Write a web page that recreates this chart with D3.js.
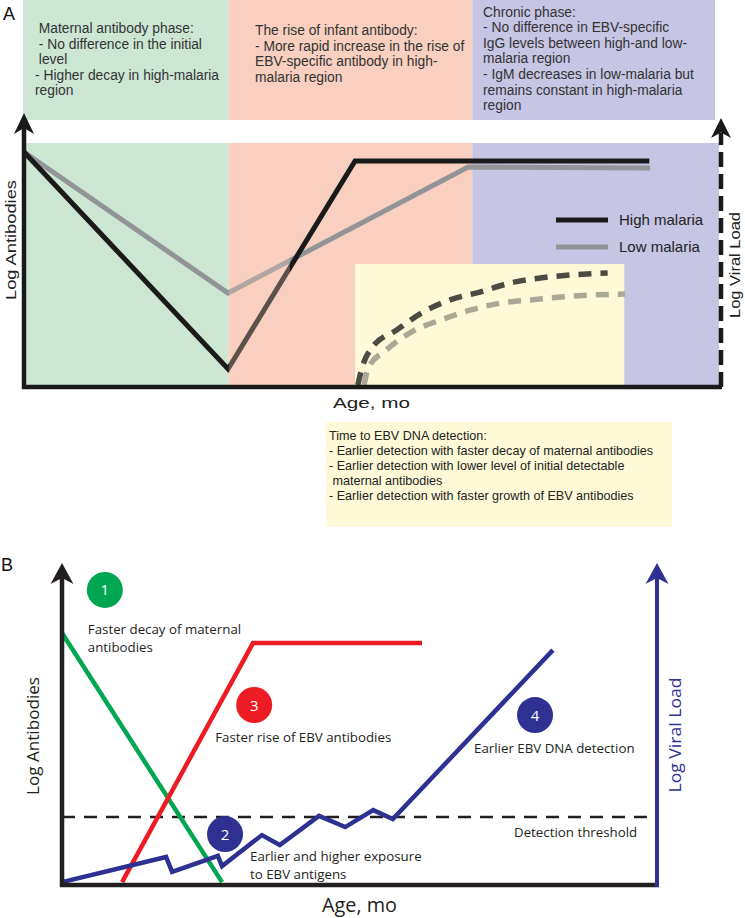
<!DOCTYPE html>
<html><head><meta charset="utf-8">
<script src="https://cdn.jsdelivr.net/npm/d3@7"></script>
<style>body{margin:0;background:#fff} svg{display:block} text{white-space:pre}</style>
</head><body><svg id="c" width="745" height="918"></svg>
<script>
// ---------- Panel A data (schematic units: age 0-100, level 0-100) ----------
const phaseStart = [0, 29.5, 64.6];
const phaseEnd = [29.5, 64.6, 100];
const phaseNotes = [
  [" Maternal antibody phase:", " - No difference in the initial", " level", "- Higher decay in high-malaria", "region"],
  ["The rise of infant antibody:", "- More rapid increase in the rise of", "EBV-specific antibody in high-", "malaria region"],
  ["Chronic phase:", "- No difference in EBV-specific", "IgG levels between high-and low-", "malaria region", "- IgM decreases in low-malaria but", "remains constant in high-malaria", "region"]
];
const seriesA = ["High malaria", "Low malaria"];
const ageHigh = [0, 29.4, 47.7, 90.1];
const abHigh = [96.3, 7.4, 92.6, 92.6];
const ageLow = [0, 29.4, 64.0, 90.2];
const abLow = [96.3, 38.5, 90.2, 89.8];
const vlAgeHigh = [48.1, 48.7, 50.1, 53.7, 57.5, 61.4, 65.7, 70.0, 74.4, 78.7, 84.1];
const vlHigh = [0.8, 7.8, 16.0, 23.4, 30.7, 35.7, 38.9, 42.6, 44.7, 45.9, 46.7];
const vlAgeLow = [49.0, 49.6, 52.2, 55.8, 60.1, 64.4, 68.7, 73.1, 77.4, 81.7, 86.6];
const vlLow = [0.8, 7.8, 15.2, 22.5, 27.5, 31.6, 34.4, 35.7, 36.9, 37.7, 38.1];
const detectAge = [47.7, 86.5];
const detectTop = 50.4;
const detectNotes = ["Time to EBV DNA detection:", "- Earlier detection with faster decay of maternal antibodies",
  "- Earlier detection with lower level of initial detectable", " maternal antibodies",
  "- Earlier detection with faster growth of EBV antibodies"];

// ---------- Panel B data ----------
const ageMaternal = [0, 26.9];
const abMaternal = [78.75, 0.9];
const ageEBVab = [10.1, 32.1, 60.5];
const abEBV = [0.9, 75.6, 75.6];
const ageViral = [0, 17.5, 18.5, 26.2, 26.9, 33.6, 36.6, 43.2, 47.6, 52.3, 55.6, 82.5];
const viral = [0.9, 8.75, 4.1, 9.1, 5.9, 15.6, 12.5, 21.6, 18.1, 23.4, 20.6, 73.4];
const threshold = 21.25;
const thresholdEnd = 98.3;
const stepNums = ["1", "2", "3", "4"];
const stepLabels = [["Faster decay of maternal", "antibodies"], ["Earlier and higher exposure", "to EBV antigens"],
  ["Faster rise of EBV antibodies"], ["Earlier EBV DNA detection"]];
const stepAge = [7.2, 27.4, 32.3, 79.5];
const stepLevel = [92.2, 15.9, 56.25, 53.1];

// ---------- styles / layout ----------
const fontA = "'Liberation Sans', Arial, sans-serif";
const fontB = "'Open Sans', 'Noto Sans', sans-serif";
const phaseFill = ["#cce6d3", "#f9cfbf", "#c6c5e3"];
const stepColor = ["#00a651", "#2e3192", "#ed1c24", "#2e3192"];
const labelOffset = [[-17, 44], [25, 27], [-39, 37], [-61, 38]];
const BLUE = "#2e3192";

const svg = d3.select("#c");
const zip = (xs, ys) => xs.map((x, i) => [x, ys[i]]);

function arrowHead(g, x, yTip, color, hw, h) {
  g.append("path")
    .attr("d", `M${x},${yTip} L${x + hw},${yTip + h} L${x},${yTip + h * 0.72} L${x - hw},${yTip + h} Z`)
    .attr("fill", color);
}

// ================= PANEL A =================
const xA = d3.scaleLinear().domain([0, 100]).range([24, 718]);
const yA = d3.scaleLinear().domain([0, 100]).range([387, 143]);
const gA = svg.append("g");

phaseStart.forEach((s, i) => {
  const x0 = xA(s) - (i === 0 ? 1 : 0), x1 = xA(phaseEnd[i]) - (i === 2 ? 3 : 0);
  gA.append("rect").attr("x", x0).attr("y", 0).attr("width", x1 - x0).attr("height", 120).attr("fill", phaseFill[i]);
  gA.append("rect").attr("x", x0).attr("y", yA(100)).attr("width", xA(phaseEnd[i]) + (i === 2 ? 1 : 0) - x0)
    .attr("height", yA(0) - 2 - yA(100)).attr("fill", phaseFill[i]);
});
const noteX = [35, 255, 483], noteY0 = [33, 35, 16.5];
phaseNotes.forEach((lines, i) => {
  const t = gA.append("text").attr("font-family", fontA).attr("font-size", 13.8).attr("fill", "#333");
  lines.forEach((l, j) => t.append("tspan").attr("x", noteX[i]).attr("y", noteY0[i] + j * 15.6).text(l));
});

gA.append("rect").attr("x", xA(detectAge[0])).attr("y", yA(detectTop))
  .attr("width", xA(detectAge[1]) - xA(detectAge[0])).attr("height", yA(0) - yA(detectTop)).attr("fill", "#fefad7");

const lineA = d3.line().x(d => xA(d[0])).y(d => yA(d[1]));
gA.append("path").attr("d", lineA(zip(ageLow, abLow))).attr("fill", "none").attr("stroke", "#929497")
  .attr("stroke-width", 5).attr("stroke-linejoin", "miter");
gA.append("path").attr("d", lineA(zip(ageHigh, abHigh))).attr("fill", "none").attr("stroke", "#1a1a1a")
  .attr("stroke-width", 5).attr("stroke-linejoin", "miter");
gA.append("rect").attr("x", xA(29.5)).attr("y", yA(100)).attr("width", xA(38.3) - xA(29.5))
  .attr("height", yA(0) - 2 - yA(100)).attr("fill", phaseFill[1]).attr("opacity", 0.3);

const curveA = d3.line().x(d => xA(d[0])).y(d => yA(d[1])).curve(d3.curveMonotoneX);
gA.append("path").attr("d", curveA(zip(vlAgeLow, vlLow))).attr("fill", "none").attr("stroke", "#aaa996")
  .attr("stroke-width", 5.5).attr("stroke-dasharray", "13,9");
gA.append("path").attr("d", curveA(zip(vlAgeHigh, vlHigh))).attr("fill", "none").attr("stroke", "#4b4b43")
  .attr("stroke-width", 5.5).attr("stroke-dasharray", "13,9");

const legY = [220, 247], legCol = ["#1a1a1a", "#929497"];
seriesA.forEach((s, i) => {
  gA.append("line").attr("x1", 556).attr("x2", 608).attr("y1", legY[i]).attr("y2", legY[i])
    .attr("stroke", legCol[i]).attr("stroke-width", 5);
  gA.append("text").attr("x", 619).attr("y", legY[i] + 5).attr("font-family", fontA).attr("font-size", 15)
    .attr("fill", "#222").text(s);
});

gA.append("line").attr("x1", xA(0)).attr("x2", xA(0)).attr("y1", yA(0) + 2).attr("y2", 125)
  .attr("stroke", "#1a1a1a").attr("stroke-width", 4.5);
arrowHead(gA, xA(0), 113, "#1a1a1a", 10, 21);
gA.append("line").attr("x1", xA(0) - 2).attr("x2", xA(100) + 4).attr("y1", yA(0)).attr("y2", yA(0))
  .attr("stroke", "#1a1a1a").attr("stroke-width", 4.5);
gA.append("line").attr("x1", xA(100) + 3).attr("x2", xA(100) + 3).attr("y1", yA(0)).attr("y2", 133)
  .attr("stroke", "#1a1a1a").attr("stroke-width", 4.5).attr("stroke-dasharray", "15,7");
arrowHead(gA, xA(100) + 3, 118, "#1a1a1a", 10, 20);

gA.append("text").attr("x", 333).attr("y", 408).attr("font-family", fontA).attr("font-size", 15.5)
  .attr("fill", "#222").attr("textLength", 77).attr("lengthAdjust", "spacingAndGlyphs").text("Age, mo");
gA.append("text").attr("transform", "translate(15.5,240) rotate(-90)").attr("text-anchor", "middle")
  .attr("font-family", fontA).attr("font-size", 15).attr("fill", "#222")
  .attr("textLength", 120).attr("lengthAdjust", "spacingAndGlyphs").text("Log Antibodies");
gA.append("text").attr("transform", "translate(740,265) rotate(-90)").attr("text-anchor", "middle")
  .attr("font-family", fontA).attr("font-size", 14.5).attr("fill", "#222")
  .attr("textLength", 106).attr("lengthAdjust", "spacingAndGlyphs").text("Log Viral Load");
gA.append("text").attr("x", 3).attr("y", 20).attr("font-family", fontA).attr("font-size", 18).attr("fill", "#111").text("A");

gA.append("rect").attr("x", 326).attr("y", 422).attr("width", 346).attr("height", 105).attr("fill", "#fefad7");
const dt = gA.append("text").attr("font-family", fontA).attr("font-size", 12.6).attr("fill", "#222");
detectNotes.forEach((l, j) => dt.append("tspan").attr("x", 329).attr("y", 440 + j * 14.9).text(l));

// ================= PANEL B =================
const xB = d3.scaleLinear().domain([0, 100]).range([62, 657]);
const yB = d3.scaleLinear().domain([0, 100]).range([885, 565]);
const gB = svg.append("g");
const lineB = d3.line().x(d => xB(d[0])).y(d => yB(d[1]));

gB.append("text").attr("x", 1).attr("y", 571).attr("font-family", fontA).attr("font-size", 18).attr("fill", "#111").text("B");

gB.append("line").attr("x1", xB(0)).attr("x2", xB(thresholdEnd)).attr("y1", yB(threshold)).attr("y2", yB(threshold))
  .attr("stroke", "#231f20").attr("stroke-width", 2.5).attr("stroke-dasharray", "13,9");

gB.append("path").attr("d", lineB(zip(ageMaternal, abMaternal))).attr("fill", "none").attr("stroke", "#00a651").attr("stroke-width", 4.5);
gB.append("path").attr("d", lineB(zip(ageEBVab, abEBV))).attr("fill", "none").attr("stroke", "#ed1c24").attr("stroke-width", 4.5);
gB.append("path").attr("d", lineB(zip(ageViral, viral))).attr("fill", "none").attr("stroke", BLUE).attr("stroke-width", 4.5);

gB.append("line").attr("x1", xB(0)).attr("x2", xB(0)).attr("y1", yB(0) + 2).attr("y2", 578)
  .attr("stroke", "#231f20").attr("stroke-width", 4.5);
arrowHead(gB, xB(0), 563, "#231f20", 11.5, 21);
gB.append("line").attr("x1", xB(0) - 2).attr("x2", xB(100) + 2).attr("y1", yB(0)).attr("y2", yB(0))
  .attr("stroke", "#231f20").attr("stroke-width", 4.5);
gB.append("line").attr("x1", xB(100)).attr("x2", xB(100)).attr("y1", yB(0) + 2).attr("y2", 578)
  .attr("stroke", BLUE).attr("stroke-width", 4);
arrowHead(gB, xB(100), 563, BLUE, 11.5, 21);

stepNums.forEach((n, i) => {
  const cx = xB(stepAge[i]), cy = yB(stepLevel[i]);
  gB.append("circle").attr("cx", cx).attr("cy", cy).attr("r", 18).attr("fill", stepColor[i]);
  gB.append("text").attr("x", cx).attr("y", cy + 5.5).attr("text-anchor", "middle").attr("font-family", fontB)
    .attr("font-size", 15).attr("fill", "#fff").text(n);
  const t = gB.append("text").attr("font-family", fontB).attr("font-size", 13.3).attr("fill", "#231f20");
  stepLabels[i].forEach((l, j) => t.append("tspan").attr("x", cx + labelOffset[i][0]).attr("y", cy + labelOffset[i][1] + j * 18).text(l));
});
gB.append("text").attr("x", 514).attr("y", 837).attr("font-family", fontB).attr("font-size", 13.3).attr("fill", "#231f20").text("Detection threshold");

gB.append("text").attr("x", 322).attr("y", 912).attr("font-family", fontB).attr("font-size", 20)
  .attr("fill", "#231f20").attr("textLength", 75).attr("lengthAdjust", "spacingAndGlyphs").text("Age, mo");
gB.append("text").attr("transform", "translate(39,736) rotate(-90)").attr("text-anchor", "middle")
  .attr("font-family", fontB).attr("font-size", 16).attr("fill", "#231f20")
  .attr("textLength", 118).attr("lengthAdjust", "spacingAndGlyphs").text("Log Antibodies");
gB.append("text").attr("transform", "translate(681,735) rotate(-90)").attr("text-anchor", "middle")
  .attr("font-family", fontB).attr("font-size", 16).attr("fill", BLUE)
  .attr("textLength", 115).attr("lengthAdjust", "spacingAndGlyphs").text("Log Viral Load");
</script></body></html>
